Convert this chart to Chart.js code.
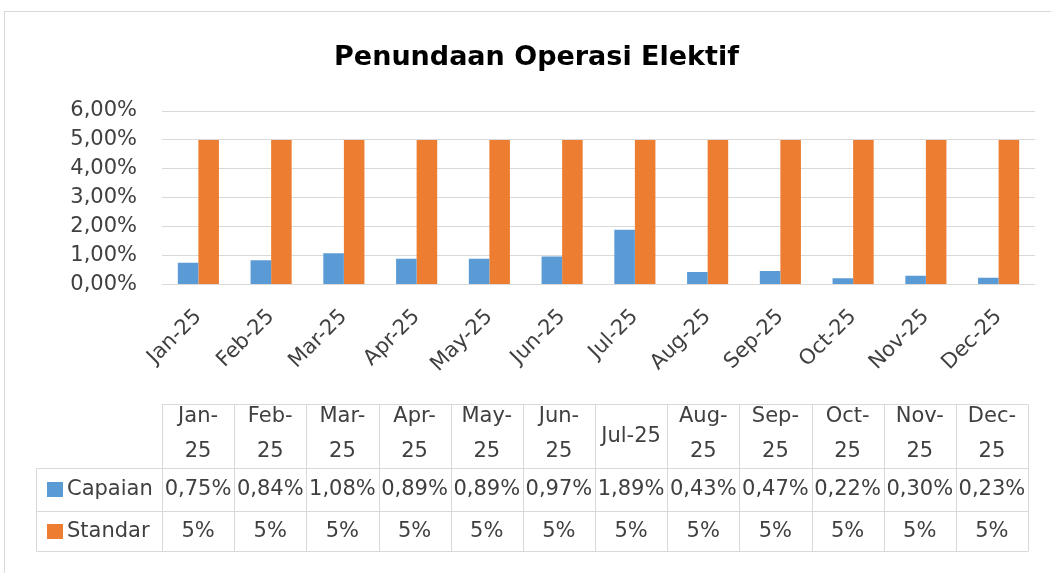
<!DOCTYPE html>
<html><head><meta charset="utf-8">
<script src="https://cdn.jsdelivr.net/npm/chart.js@4.4.1/dist/chart.umd.min.js"></script>
<style>html,body{margin:0;padding:0;background:#fff;}canvas{display:block;}</style>
</head><body>
<canvas id="c" width="1051" height="573"></canvas>
<script>
const chartTitle = 'Penundaan Operasi Elektif';
const categories = ['Jan-25','Feb-25','Mar-25','Apr-25','May-25','Jun-25','Jul-25','Aug-25','Sep-25','Oct-25','Nov-25','Dec-25'];
const seriesNames = ['Capaian','Standar'];
const capaian = [0.75,0.84,1.08,0.89,0.89,0.97,1.89,0.43,0.47,0.22,0.30,0.23];
const standar = [5,5,5,5,5,5,5,5,5,5,5,5];
const yMin = 0, yMax = 6, yStep = 1;

const BLUE = '#5B9BD5', ORANGE = '#ED7D31', GRID = '#d9d9d9', TXT = '#404040';
const FONT = "'DejaVu Sans', sans-serif";
const fmt2 = v => v.toFixed(2).replace('.', ',') + '%';
const fmt0 = v => Math.round(v) + '%';

const tablePlugin = {
  id: 'tablePlugin',
  beforeDraw(chart) {
    const ctx = chart.ctx;
    ctx.save();
    ctx.fillStyle = '#fff';
    ctx.fillRect(0, 0, chart.width, chart.height);
    ctx.strokeStyle = GRID;
    ctx.lineWidth = 1;
    ctx.strokeRect(4.5, 11.5, chart.width + 20, chart.height + 20);
    ctx.restore();
  },
  afterDraw(chart) {
    const ctx = chart.ctx;
    const ca = chart.chartArea;
    const left = ca.left;
    const colW = (ca.width * (866 / 873)) / categories.length;
    const right = left + colW * categories.length;
    const legendLeft = 36.5;
    const yTop = 404.5, yR1 = 468.5, yR2 = 511.5, yBot = 551.5;
    ctx.save();
    ctx.strokeStyle = GRID;
    ctx.lineWidth = 1;
    ctx.beginPath();
    ctx.moveTo(left, yTop); ctx.lineTo(right, yTop);
    [yR1, yR2, yBot].forEach(y => { ctx.moveTo(legendLeft, y); ctx.lineTo(right, y); });
    ctx.moveTo(legendLeft, yR1); ctx.lineTo(legendLeft, yBot);
    for (let i = 0; i <= categories.length; i++) {
      const x = Math.round(left + i * colW) + 0.5;
      ctx.moveTo(x, yTop); ctx.lineTo(x, yBot);
    }
    ctx.stroke();

    ctx.fillStyle = TXT;
    ctx.font = '21px ' + FONT;
    ctx.textAlign = 'center';
    ctx.textBaseline = 'middle';
    categories.forEach((c, i) => {
      const cx = left + (i + 0.5) * colW;
      if (ctx.measureText(c).width > colW - 12) {
        const k = c.indexOf('-');
        ctx.fillText(c.slice(0, k + 1), cx, 417);
        ctx.fillText(c.slice(k + 1), cx, 452);
      } else {
        ctx.fillText(c, cx, 437);
      }
      ctx.fillText(fmt2(capaian[i]), cx, 490);
      ctx.fillText(fmt0(standar[i]), cx, 532);
    });
    const rows = [[BLUE, seriesNames[0], 490], [ORANGE, seriesNames[1], 532]];
    rows.forEach(([col, name, y]) => {
      ctx.fillStyle = col;
      ctx.fillRect(47, y - 8, 16, 15);
      ctx.fillStyle = TXT;
      ctx.textAlign = 'left';
      ctx.fillText(name, 67, y);
    });
    ctx.restore();
  }
};

new Chart(document.getElementById('c'), {
  type: 'bar',
  data: {
    labels: categories,
    datasets: [
      { label: seriesNames[0], data: capaian, backgroundColor: BLUE },
      { label: seriesNames[1], data: standar, backgroundColor: ORANGE }
    ]
  },
  options: {
    responsive: false,
    animation: false,
    devicePixelRatio: 1,
    layout: { padding: { left: 38, right: 16, top: 0, bottom: 169 } },
    datasets: { bar: { categoryPercentage: 0.565, barPercentage: 1 } },
    plugins: {
      legend: { display: false },
      tooltip: { enabled: false },
      title: {
        display: true, text: chartTitle, color: '#000',
        font: { family: FONT, size: 27, weight: 'bold', lineHeight: 1.2 },
        padding: { top: 42, bottom: 36.6 }
      }
    },
    scales: {
      x: {
        grid: { display: false, drawTicks: false },
        border: { display: false },
        ticks: { color: TXT, font: { family: FONT, size: 21 }, minRotation: 45, maxRotation: 45, autoSkip: false, padding: 20 },
        afterFit: s => { s.height = 119.5; }
      },
      y: {
        min: yMin, max: yMax,
        grid: { color: GRID, drawTicks: false },
        border: { display: false },
        ticks: { stepSize: yStep, color: TXT, font: { family: FONT, size: 21 }, padding: 25, callback: v => fmt2(v) },
        afterFit: s => { s.width = 124; }
      }
    }
  },
  plugins: [tablePlugin]
});
</script>
</body></html>
